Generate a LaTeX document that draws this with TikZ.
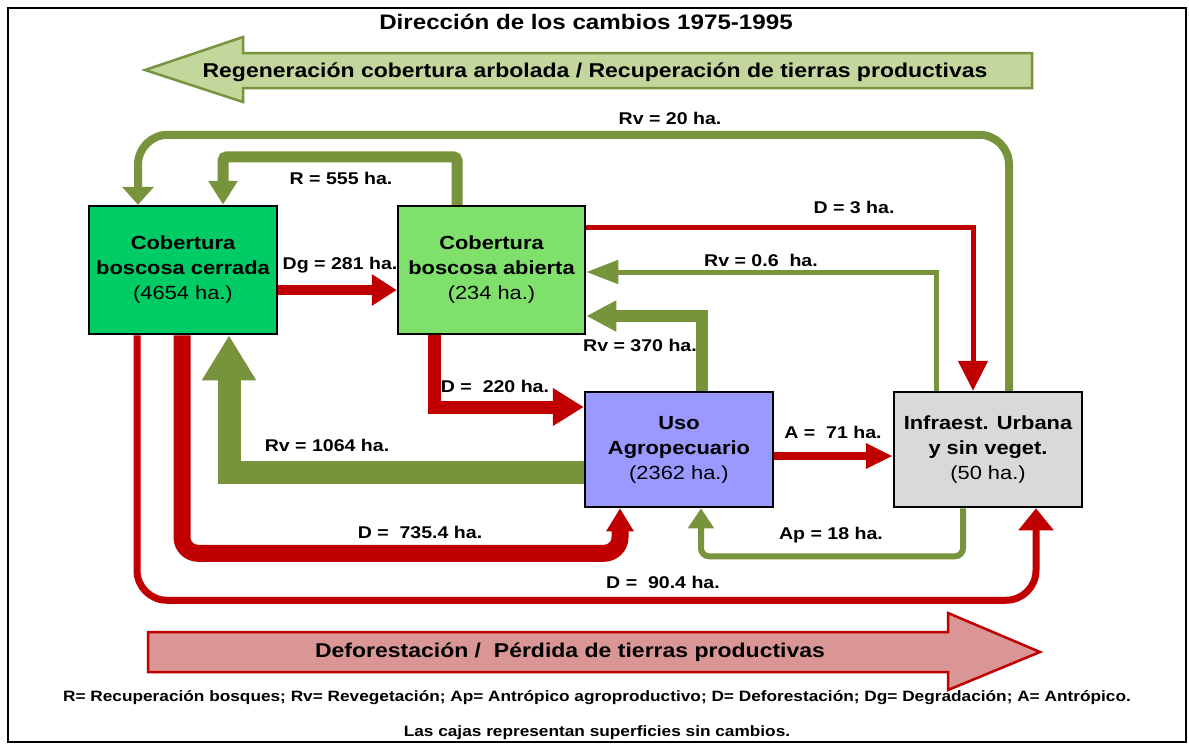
\documentclass[tikz,border=0pt]{standalone}
\usepackage{fontspec}
\setmainfont{Liberation Sans}[FakeStretch=1.15]
\usetikzlibrary{arrows.meta,calc}
\definecolor{rojo}{RGB}{192,0,0}
\definecolor{verde}{RGB}{119,147,60}
\definecolor{verdeclaro}{RGB}{195,214,155}
\definecolor{rosa}{RGB}{217,150,148}
\definecolor{cerradacol}{RGB}{0,204,102}
\definecolor{abiertacol}{RGB}{128,224,108}
\definecolor{agrocol}{RGB}{153,153,255}
\definecolor{urbanacol}{RGB}{217,217,217}

\tikzset{
  caja/.style={draw=black,line width=2.5pt,minimum width=188pt,inner sep=0pt,
    align=center,font=\bfseries\fontsize{19}{25}\selectfont},
  rojoflujo/.style={draw=rojo,line width=#1},
  verdeflujo/.style={draw=verde,line width=#1},
  punta/.style 2 args={-{Triangle[width=#1,length=#2]}},
  etiqueta/.style={font=\bfseries\fontsize{17}{20}\selectfont,inner sep=0pt}
}

\begin{document}
\begin{tikzpicture}[x=1pt,y=-1pt]
  \useasboundingbox (0,0) rectangle (1189,745);
  \draw[line width=2pt] (8,8) rectangle (1186,742);

  % titulo y flechas grandes
  \node[font=\bfseries\fontsize{21}{24}\selectfont] (titulo) at (586,22) {Dirección de los cambios 1975-1995};
  \draw[draw=verde,fill=verdeclaro,line width=2.5pt]
    (145,70) -- (243,37) -- (243,53) -- (1032,53) -- (1032,88) -- (243,88) -- (243,102) -- cycle;
  \node[font=\bfseries\fontsize{20}{24}\selectfont] (regen) at (595,72)
    {Regeneración cobertura arbolada / Recuperación de tierras productivas};
  \draw[draw=rojo,fill=rosa,line width=2.5pt]
    (148,632) -- (948,632) -- (948,613) -- (1040,652) -- (948,690) -- (948,672) -- (148,672) -- cycle;
  \node[font=\bfseries\fontsize{20}{24}\selectfont] (defor) at (570,652)
    {Deforestación /\ \ Pérdida de tierras productivas};

  % cajas
  \node[caja,fill=cerradacol,minimum height=128pt] (cerrada) at (183,270)
    {Cobertura\\boscosa cerrada\\\mdseries(4654 ha.)};
  \node[caja,fill=abiertacol,minimum height=128pt,minimum width=187pt] (abierta) at (491.5,270)
    {Cobertura\\boscosa abierta\\\mdseries(234 ha.)};
  \node[caja,fill=agrocol,minimum height=115pt] (agro) at (679,449.5)
    {Uso\\Agropecuario\\\mdseries(2362 ha.)};
  \node[caja,fill=urbanacol,minimum height=115pt] (urbana) at (988,449.5)
    {Infraest. Urbana\\y sin veget.\\\mdseries(50 ha.)};

  % flujos
  \draw[rojoflujo=10pt,punta={30pt}{25pt}] ($(cerrada.east)+(0,20)$) -- ($(abierta.west)+(0,20)$);
  \draw[rojoflujo=13pt,punta={36pt}{31pt}] ($(abierta.south)+(-57.5,0)$) |- ($(agro.west)+(0,-42.5)$);
  \draw[verdeflujo=23pt,punta={51pt}{45pt}] ($(agro.west)+(0,22.5)$) -| ($(cerrada.south)+(46,0)$);
  \draw[rojoflujo=17pt,punta={26pt}{23pt},rounded corners=16pt]
    ($(cerrada.south)+(-1,0)$) |- ($(agro.south)+(-59,45)$) -- ($(agro.south)+(-59,0)$);
  \draw[rojoflujo=7pt,punta={34pt}{22pt},rounded corners=30pt]
    ($(cerrada.south)+(-46,0)$) |- ($(urbana.south)+(48,92)$) -- ($(urbana.south)+(48,0)$);
  \draw[verdeflujo=6pt,punta={25pt}{20pt},rounded corners=8pt]
    ($(urbana.south)+(-25,0)$) |- ($(agro.south)+(22,48)$) -- ($(agro.south)+(22,0)$);
  \draw[rojoflujo=8pt,punta={24pt}{27pt}] ($(agro.east)+(0,6.5)$) -- ($(urbana.west)+(0,6.5)$);
  \draw[verdeflujo=12pt,punta={29pt}{30pt}] ($(agro.north)+(23,0)$) |- ($(abierta.east)+(0,46)$);
  \draw[verdeflujo=5pt,punta={23pt}{32pt}] ($(urbana.north)+(-52,0)$) |- ($(abierta.east)+(0,2)$);
  \draw[rojoflujo=5pt,punta={29pt}{30pt}] ($(abierta.east)+(0,-43)$) -| ($(urbana.north)+(-15,0)$);
  \draw[verdeflujo=8pt,punta={31pt}{18pt},rounded corners=30pt]
    ($(urbana.north)+(21,0)$) |- ($(cerrada.north)+(-45,-70)$) -- ($(cerrada.north)+(-45,0)$);
  \draw[verdeflujo=11pt,punta={28pt}{24pt},rounded corners=4pt]
    ($(abierta.north)+(-34.5,0)$) |- ($(cerrada.north)+(40,-48)$) -- ($(cerrada.north)+(40,0)$);

  % etiquetas
  \node[etiqueta] (lR) at (341,178) {R = 555 ha.};
  \node[etiqueta] (lRv20) at (670,118) {Rv = 20 ha.};
  \node[etiqueta] (lD3) at (854,207) {D = 3 ha.};
  \node[etiqueta] (lDg) at (340,265) {Dg = 281 ha.};
  \node[etiqueta] (lRv06) at (761,260) {Rv = 0.6\ \ ha.};
  \node[etiqueta] (lRv370) at (640,345) {Rv = 370 ha.};
  \node[etiqueta] (lD220) at (495,386) {D =\ \ 220 ha.};
  \node[etiqueta] (lRv1064) at (327,445) {Rv = 1064 ha.};
  \node[etiqueta] (lA) at (833,432) {A =\ \ 71 ha.};
  \node[etiqueta] (lD735) at (420,532) {D =\ \ 735.4 ha.};
  \node[etiqueta] (lAp) at (831,535) {Ap = 18 ha.};
  \node[etiqueta] (lD90) at (663,582) {D =\ \ 90.4 ha.};

  % leyenda
  \node[font=\bfseries\fontsize{15}{18}\selectfont] (leyenda) at (597,698)
    {R= Recuperación bosques; Rv= Revegetación; Ap= Antrópico agroproductivo; D= Deforestación; Dg= Degradación; A= Antrópico.};
  \node[font=\bfseries\fontsize{15}{18}\selectfont] (nota) at (597,733)
    {Las cajas representan superficies sin cambios.};
\end{tikzpicture}
\end{document}
